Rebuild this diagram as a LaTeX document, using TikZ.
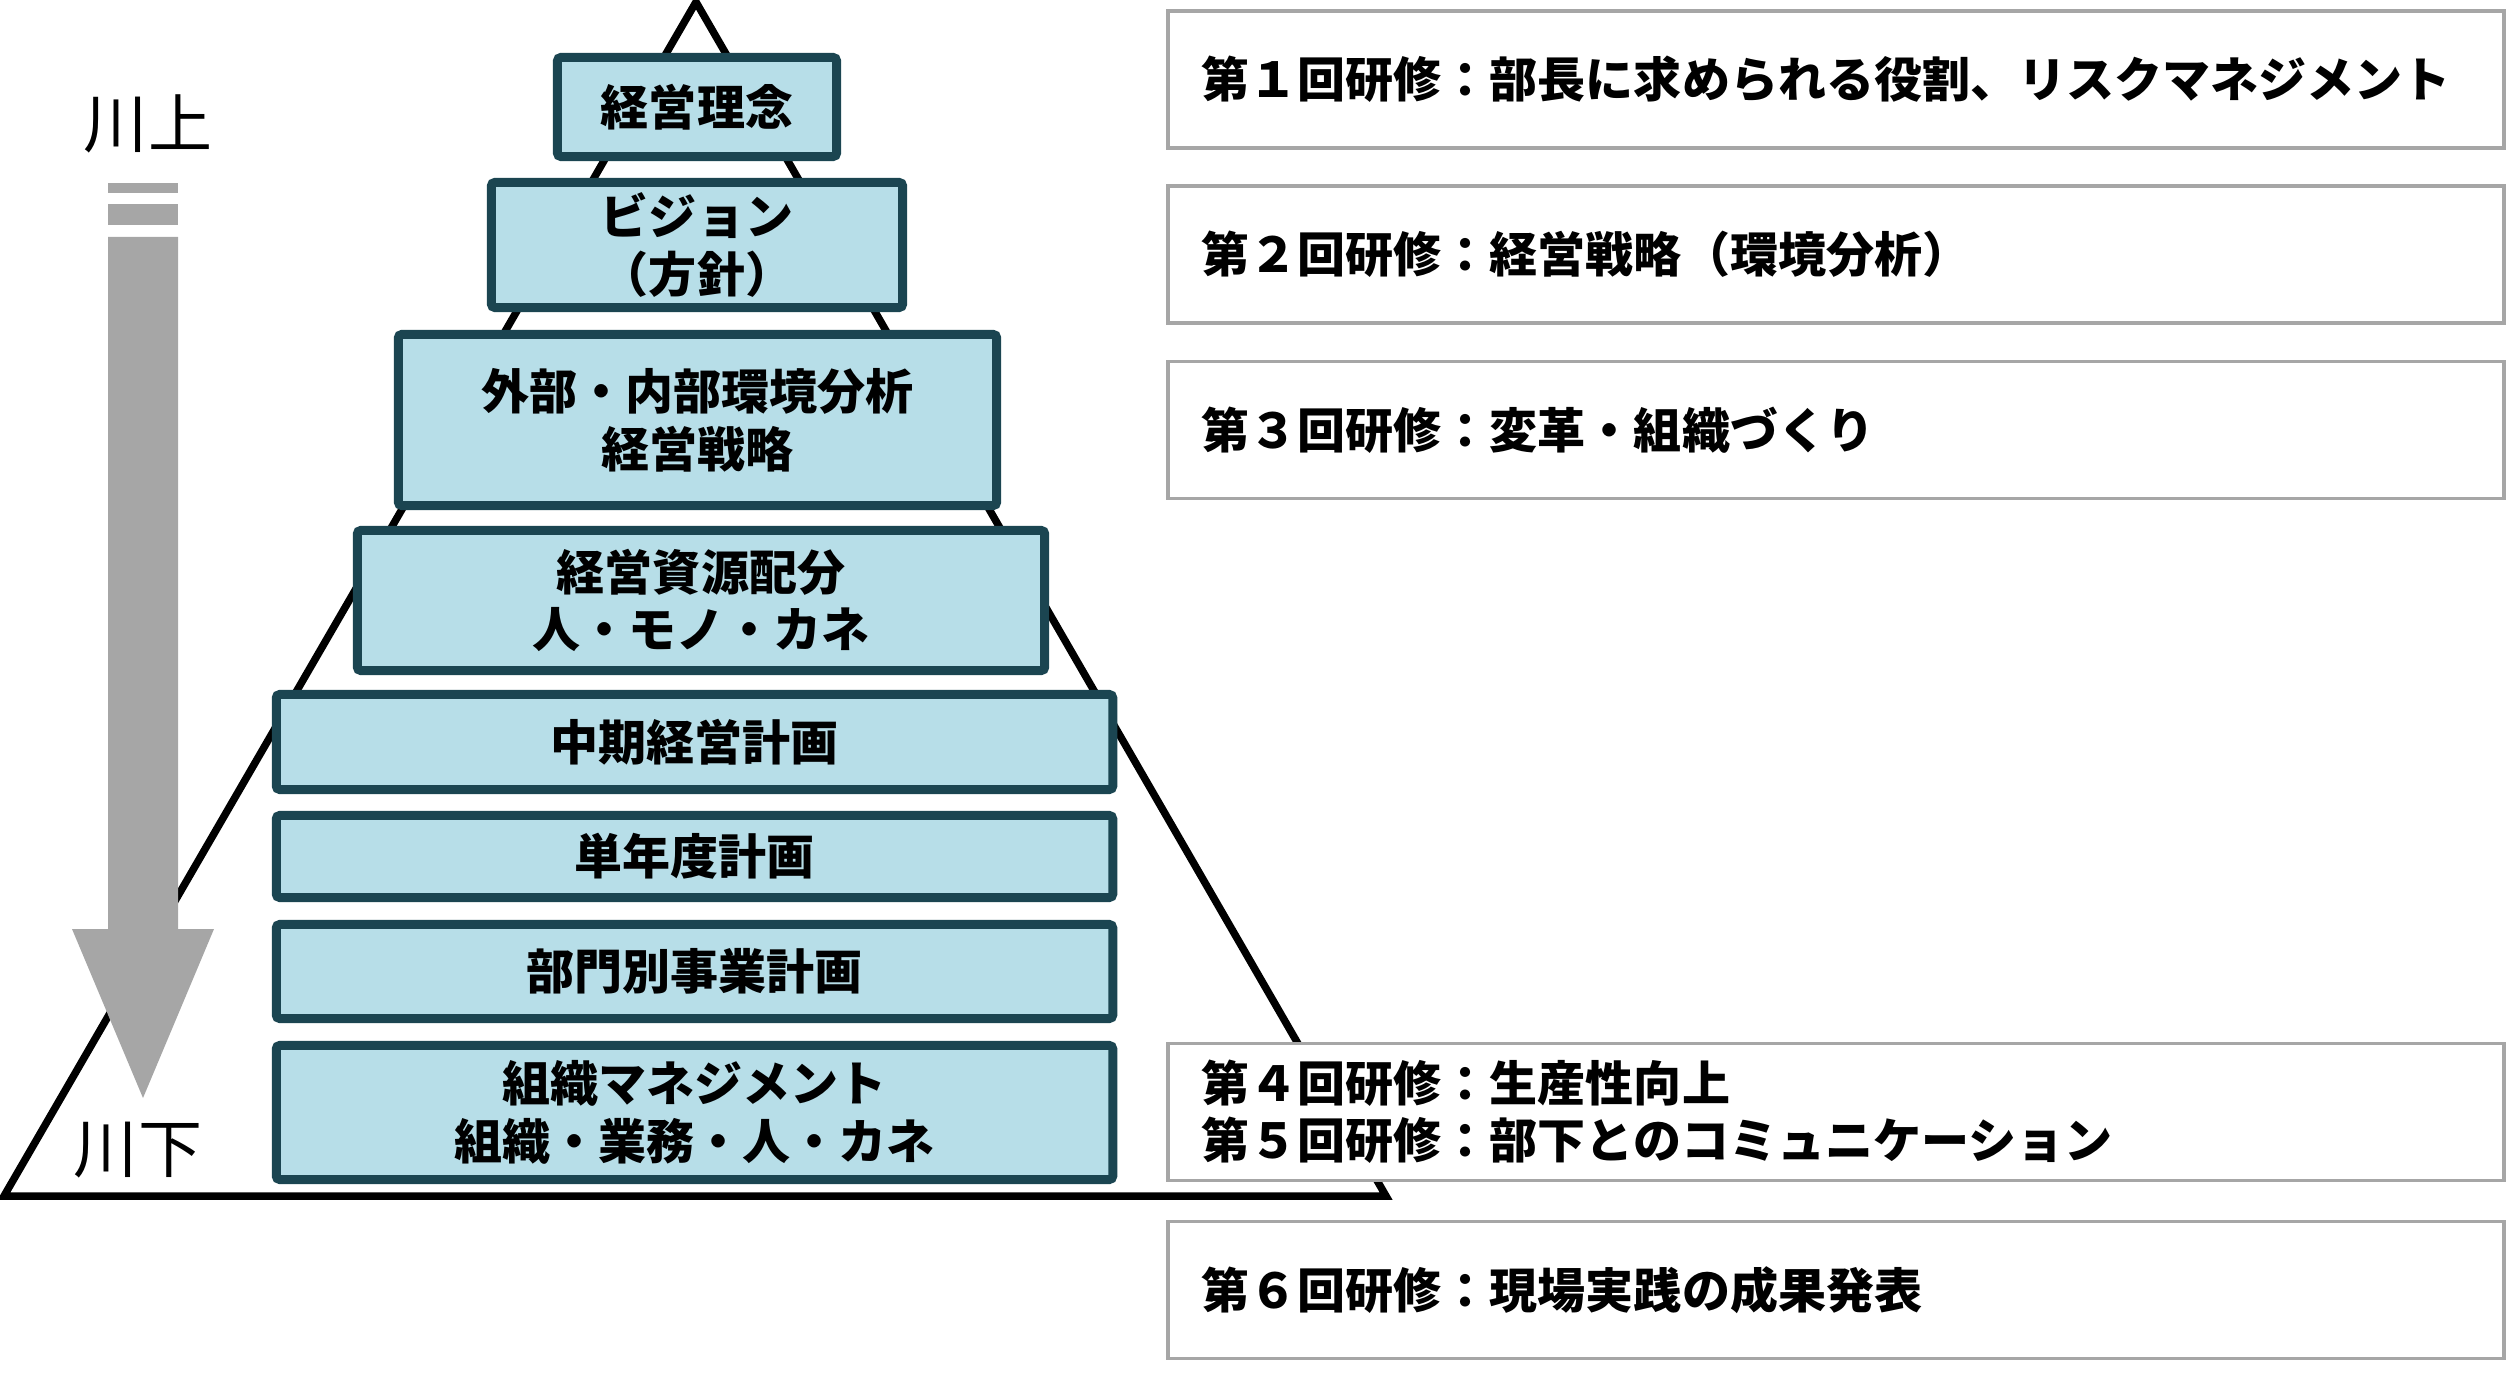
\documentclass[tikz,border=0pt]{standalone}
\usepackage{fontspec}
\setmainfont{Noto Sans CJK JP}
\definecolor{boxfill}{HTML}{B7DEE8}
\definecolor{boxline}{HTML}{1B4551}
\definecolor{arrowgray}{HTML}{A6A6A6}
\definecolor{framegray}{HTML}{A6A6A6}
\begin{document}
\begin{tikzpicture}[x=0.01cm,y=-0.01cm,
  layer/.style={draw=boxline, line width=2.56pt, fill=boxfill, rounded corners=1pt, align=center, inner sep=0pt, font=\bfseries\fontsize{13.66pt}{16.4pt}\selectfont},
  course/.style={draw=framegray, line width=1pt, fill=white, text width=12.68cm, inner xsep=0.335cm, inner ysep=0pt, minimum height=1.37cm, align=left, font=\bfseries\fontsize{13.66pt}{16.2pt}\selectfont},
  river/.style={inner sep=0pt, font=\fontsize{18.2pt}{20pt}\selectfont}]
\useasboundingbox (0,0) rectangle (2513,1389);
% pyramid outline
\coordinate (apex) at (696,2);
\coordinate (bl) at (4,1196);
\coordinate (br) at (1386,1196);
\draw[line width=2.13pt] (apex) -- (bl) -- (br) -- cycle;
% downstream arrow
\fill[arrowgray] (108,183) rectangle (178,193);
\fill[arrowgray] (108,204) rectangle (178,225);
\fill[arrowgray] (108,237) -- (178,237) -- (178,929) -- (214,929) -- (143,1098) -- (72,929) -- (108,929) -- cycle;
\node[river] (up) at (148,124) {川上};
\node[river] (down) at (138,1150) {川下};
% pyramid layers
\node[layer, minimum width=2.79cm, minimum height=0.99cm] (l1) at (697,107) {経営理念};
\node[layer, minimum width=4.11cm, minimum height=1.25cm] (l2) at (697,245) {ビジョン\\（方針）};
\node[layer, minimum width=5.98cm, minimum height=1.71cm] (l3) at (697.5,420) {外部・内部環境分析\\経営戦略};
\node[layer, minimum width=6.87cm, minimum height=1.40cm] (l4) at (701,600.5) {経営資源配分\\人・モノ・カネ};
\node[layer, minimum width=8.36cm, minimum height=0.95cm] (l5) at (694.5,742) {中期経営計画};
\node[layer, minimum width=8.36cm, minimum height=0.82cm] (l6) at (694.5,856.5) {単年度計画};
\node[layer, minimum width=8.36cm, minimum height=0.94cm] (l7) at (694.5,971.5) {部門別事業計画};
\node[layer, minimum width=8.36cm, minimum height=1.34cm] (l8) at (694.5,1112.5) {組織マネジメント\\組織・業務・人・カネ};
% training sessions
\node[course] (c1) at (1836,79.5) {第１回研修：部長に求められる役割、リスクマネジメント};
\node[course] (c2) at (1836,254.5) {第２回研修：経営戦略（環境分析）};
\node[course] (c3) at (1836,430) {第３回研修：変革・組織づくり};
\node[course] (c4) at (1836,1112) {第４回研修：生産性向上\\第５回研修：部下とのコミュニケーション};
\node[course] (c5) at (1836,1290) {第６回研修：現場実践の成果発表};
\end{tikzpicture}
\end{document}
